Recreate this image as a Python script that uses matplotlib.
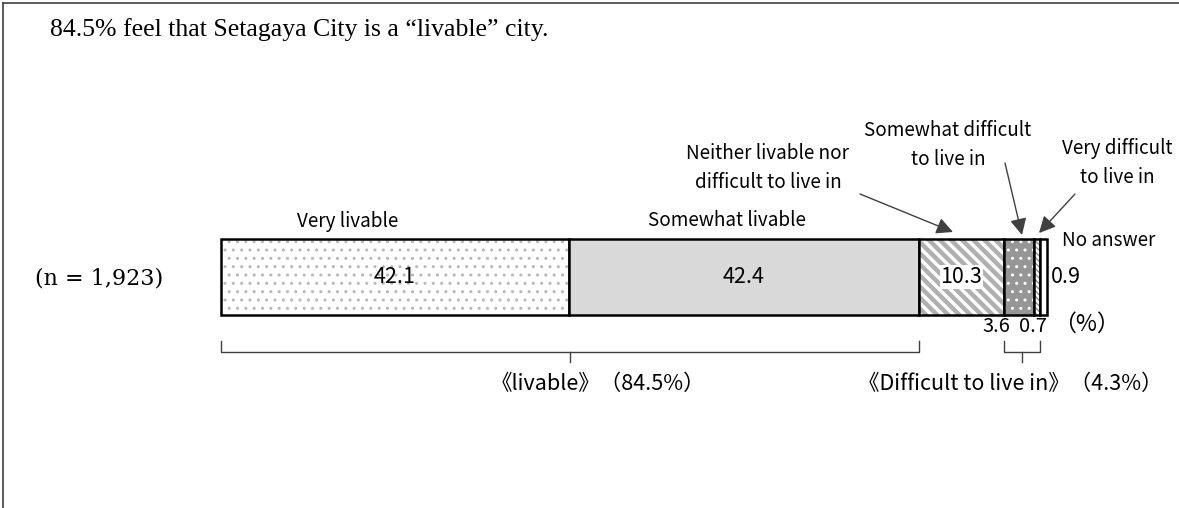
"""Setagaya City livability survey - single stacked 100% bar."""

import matplotlib

matplotlib.use("Agg")
import matplotlib.pyplot as plt
import numpy as np

# Data
categories = [
    "Very livable",
    "Somewhat livable",
    "Neither livable nor\ndifficult to live in",
    "Somewhat difficult\nto live in",
    "Very difficult\nto live in",
    "No answer",
]
values = [42.1, 42.4, 10.3, 3.6, 0.7, 0.9]
value_labels = ["42.1", "42.4", "10.3", "3.6", "0.7", "0.9"]
n_label = "(n = 1,923)"
title = "84.5% feel that Setagaya City is a \u201clivable\u201d city."
group_labels = ["\u300alivable\u300b\uff0884.5%\uff09",
                "\u300aDifficult to live in\u300b\uff084.3%\uff09"]
group_ranges = [(0, 1), (3, 4)]  # first and last category index of each group
unit_label = "\uff08%\uff09"

# Styles
fills = ["white", "#d9d9d9", "white", "#969696", "white", "white"]
hatches = ["..", None, "\\\\\\", "..", "\\\\\\\\\\\\", None]
hatch_colors = ["#b8b8b8", None, "#b0b0b0", "white", "#8c8c8c", None]
hatch_widths = [1.0, 1.0, 3.2, 1.0, 1.0, 1.0]

SANS = ["Noto Sans CJK JP", "DejaVu Sans"]
SERIF = ["Liberation Serif", "DejaVu Serif"]

W, H = 1179, 508
BAR_X0, BAR_X1 = 221, 1047  # pixel span of the 100% bar
PX_PER = (BAR_X1 - BAR_X0) / 100.0
BAR_TOP, BAR_BOT = 239, 315
NUM_FS = 15.5
LBL_FS = 13.6


def px(x):
    """Pixel x -> data x (percent)."""
    return (x - BAR_X0) / PX_PER


fig = plt.figure(figsize=(W / 100, H / 100), dpi=100)
ax = fig.add_axes([0, 0, 1, 1])
ax.set_xlim(px(0), px(W))
ax.set_ylim(H, 0)
ax.axis("off")

# Frame (top and left edges)
ax.plot([px(3), px(W + 5)], [2.5, 2.5], color="#404040", lw=1.2, clip_on=False)
ax.plot([px(3), px(3)], [2.5, H + 5], color="#404040", lw=1.2, clip_on=False)

ax.text(px(50), 30, title, family=SERIF, fontsize=18.5, va="center", ha="left")
ax.text(px(35), 279, n_label, family=["DejaVu Serif"], fontsize=16,
        va="center", ha="left")

lefts = np.concatenate([[0], np.cumsum(values)[:-1]])
bar_y = (BAR_TOP + BAR_BOT) / 2
bar_h = BAR_BOT - BAR_TOP

for i, (left, val) in enumerate(zip(lefts, values)):
    ax.barh(bar_y, val, left=left, height=bar_h, color=fills[i], linewidth=0)
    if hatches[i]:
        hb = ax.barh(bar_y, val, left=left, height=bar_h, color="none",
                     edgecolor=hatch_colors[i], hatch=hatches[i], linewidth=0)
        for p in hb.patches:
            if hasattr(p, "set_hatch_linewidth"):
                p.set_hatch_linewidth(hatch_widths[i])
    ax.barh(bar_y, val, left=left, height=bar_h, color="none",
            edgecolor="black", linewidth=1.8)

centers = lefts + np.array(values) / 2

# Value labels inside the large segments
for i in range(3):
    box = dict(facecolor="white", edgecolor="none", pad=0.5) if i == 2 else None
    ax.text(centers[i], bar_y, value_labels[i], family=SANS, fontsize=NUM_FS,
            ha="center", va="center", bbox=box)

# Small segment values
ax.text(px(1051), bar_y, value_labels[5],
        family=SANS, fontsize=NUM_FS, ha="left", va="center")
ax.text(px(996), 327, value_labels[3], family=SANS, fontsize=14.5,
        ha="center", va="center")
ax.text(px(1033), 327, value_labels[4], family=SANS, fontsize=14.5,
        ha="center", va="center")
ax.text(px(1086), 324, unit_label, family=SANS, fontsize=16.5,
        ha="center", va="center")

# Category labels above the bar
ax.text(px(348), 222, categories[0], family=SANS, fontsize=LBL_FS, ha="center", va="center")
ax.text(px(727), 220, categories[1], family=SANS, fontsize=LBL_FS, ha="center", va="center")
ax.text(px(1062), 240, categories[5], family=SANS, fontsize=LBL_FS, ha="left", va="center")

callouts = [
    (2, (768, 168), (860, 194), (953, 232)),
    (3, (948, 145), (1005, 163), (1022, 235)),
    (4, (1117, 163), (1075, 194), (1039, 233)),
]
for idx, (tx, ty), (sx, sy), (ex, ey) in callouts:
    ax.text(px(tx), ty, categories[idx], family=SANS, fontsize=LBL_FS,
            ha="center", va="center", linespacing=1.5)
    ax.annotate("", xy=(px(ex), ey), xytext=(px(sx), sy),
                arrowprops=dict(arrowstyle="-|>,head_length=1.0,head_width=0.5",
                                color="#404040", lw=1.0, shrinkA=0, shrinkB=0))

# Group brackets below the bar
cum = np.concatenate([[0], np.cumsum(values)])
label_x = [598, 1010]
for (a, b), label, lx in zip(group_ranges, group_labels, label_x):
    x0, x1 = cum[a], cum[b + 1]
    xm = (x0 + x1) / 2
    ax.plot([x0, x0, x1, x1], [341, 352, 352, 341], color="#404040", lw=1.0)
    ax.plot([xm, xm], [352, 362], color="#404040", lw=1.0)
    ax.text(px(lx), 384, label, family=SANS, fontsize=15.5,
            ha="center", va="center")

fig.savefig("out.png", dpi=100)
